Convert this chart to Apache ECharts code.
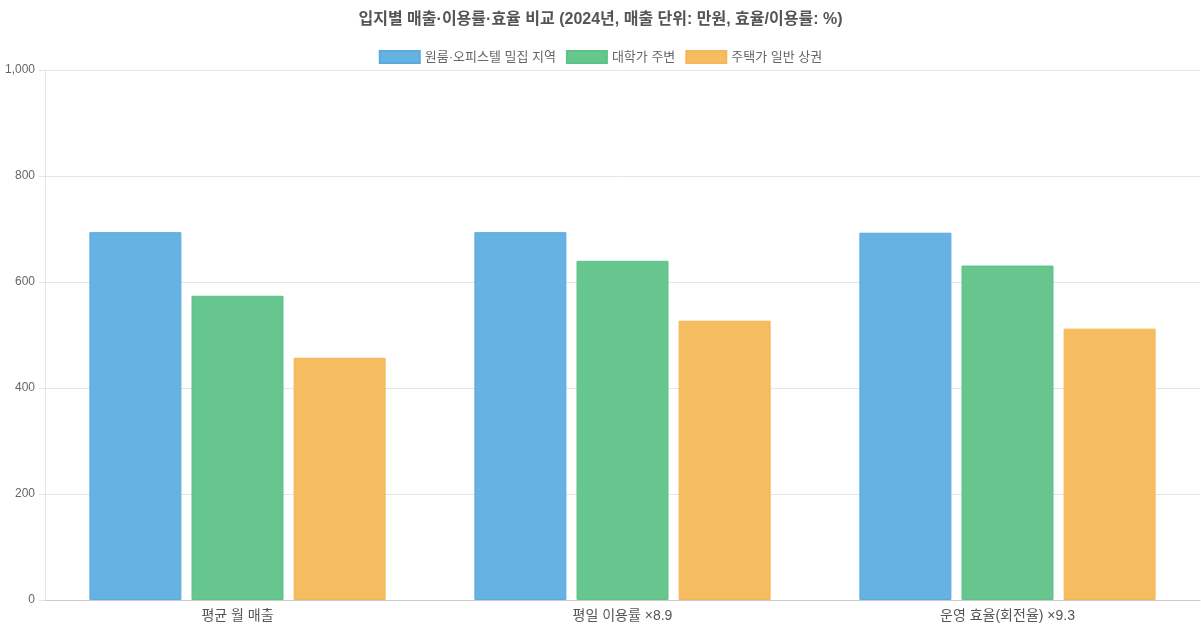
<!DOCTYPE html>
<html><head><meta charset="utf-8">
<script src="https://cdn.jsdelivr.net/npm/echarts@6/dist/echarts.min.js"></script>
<style>html,body{margin:0;padding:0;background:#fff}#c{width:1201px;height:630px}</style>
</head><body><div id="c"></div>
<script>
const categories = ['평균 월 매출', '평일 이용률 ×8.9', '운영 효율(회전율) ×9.3'];
const seriesNames = ['원룸·오피스텔 밀집 지역', '대학가 주변', '주택가 일반 상권'];
const oneroomValues = [694, 694, 693];
const campusValues = [574, 640, 631];
const residentialValues = [457, 527, 512];
const yTicks = [0, 200, 400, 600, 800, 1000];

const colors = ['#66B2E2', '#66C68E', '#F5BC60'];
const borders = ['#5AAAE0', '#5CC286', '#F4B656'];
const font = '"Liberation Sans", Arial, "Noto Sans CJK KR", sans-serif';
const chart = echarts.init(document.getElementById('c'));
const data = [oneroomValues, campusValues, residentialValues];
chart.setOption({
  animation: false,
  title: {
    text: '입지별 매출·이용률·효율 비교 (2024년, 매출 단위: 만원, 효율/이용률: %)',
    left: 'center', top: 7,
    textStyle: { fontSize: 16, fontWeight: 'bold', color: '#555', fontFamily: font }
  },
  legend: {
    top: 45, left: 'center', itemWidth: 40, itemHeight: 12, itemGap: 10, icon: 'rect',
    textStyle: { fontSize: 13, color: '#666', fontFamily: font },
    data: seriesNames
  },
  grid: { left: 45, right: 1, top: 70, bottom: 30, containLabel: false },
  xAxis: {
    type: 'category', data: categories,
    axisLine: { lineStyle: { color: '#ccc' } },
    axisTick: { show: false },
    axisLabel: { fontSize: 14, color: '#555', margin: 9, fontFamily: font },
    splitLine: { show: false }
  },
  yAxis: {
    type: 'value', min: yTicks[0], max: yTicks[yTicks.length - 1], interval: 200,
    axisLine: { show: true, lineStyle: { color: '#e5e5e5' } },
    axisTick: { show: true, length: 6, lineStyle: { color: '#e5e5e5' } },
    axisLabel: { fontSize: 12, color: '#666', margin: 10, fontFamily: font,
      formatter: v => v.toLocaleString('en-US') },
    splitLine: { lineStyle: { color: '#e5e5e5' } }
  },
  series: seriesNames.map((n, i) => ({
    name: n, type: 'bar', data: data[i],
    barWidth: 92, barGap: '11%',
    itemStyle: { color: colors[i], borderColor: borders[i], borderWidth: 1 }
  }))
});
</script></body></html>
